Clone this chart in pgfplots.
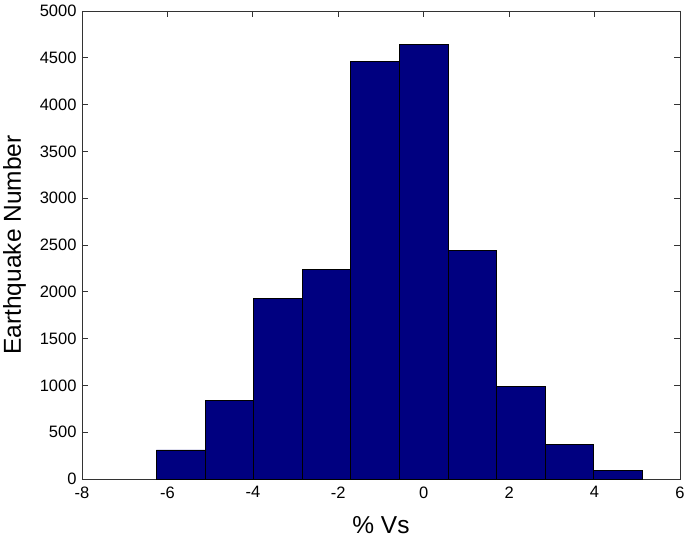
\documentclass[border=0pt]{standalone}
\usepackage{pgfplots}
\pgfplotsset{compat=1.18}
\usepackage{fontspec}
\setmainfont{Liberation Sans}
\definecolor{matnavy}{RGB}{0,0,128}
\begin{document}
\begin{tikzpicture}
\begin{axis}[
    width=598pt, height=468pt,
    scale only axis,
    xmin=-8, xmax=6,
    ymin=0, ymax=5000,
    xtick={-8,-6,...,6},
    ytick={0,500,...,5000},
    tick align=inside,
    major tick length=6pt,
    axis line style={black!80, line width=0.9pt},
    every tick/.style={black!80, line width=0.9pt},
    tick label style={font=\fontsize{16.5}{18}\selectfont},
    /pgf/number format/assume math mode=true,
    /pgf/number format/1000 sep={},
    scaled y ticks=false,
    xlabel={\% Vs},
    ylabel={Earthquake Number},
    label style={font=\fontsize{24.5}{28}\selectfont},
    xlabel style={at={(axis description cs:0.5,-0.098)}, anchor=center},
    ylabel style={at={(axis description cs:-0.113,0.5)}, anchor=center},
    xticklabel style={yshift=-4pt},
    yticklabel style={xshift=-2pt},
]
\addplot[ybar interval, fill=matnavy, draw=black, line width=0.8pt] coordinates {
    (-6.257, 310)
    (-5.119, 838)
    (-3.982, 1930)
    (-2.844, 2238)
    (-1.706, 4460)
    (-0.569, 4645)
    (0.569, 2441)
    (1.707, 988)
    (2.844, 371)
    (3.982, 89)
    (5.120, 89)
};
\end{axis}
\pgfresetboundingbox
\path[use as bounding box] (current axis.south west) ++(-82pt,-59pt) rectangle ++(685pt,538pt);
\end{tikzpicture}
\end{document}
